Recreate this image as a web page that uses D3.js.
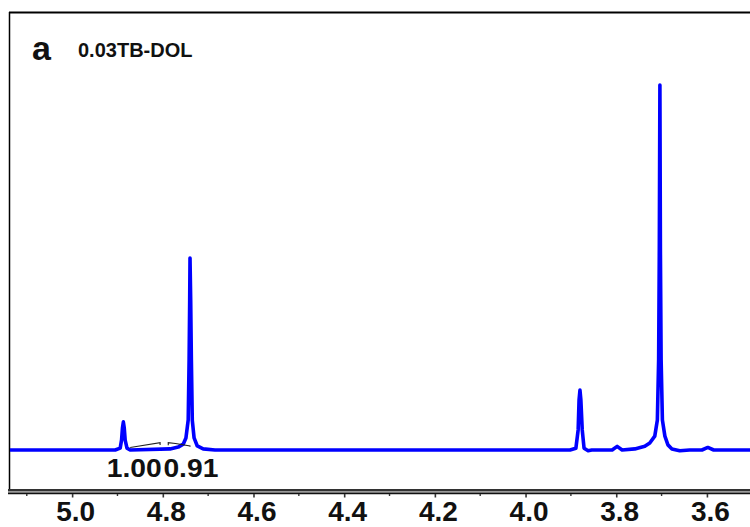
<!DOCTYPE html>
<html>
<head>
<meta charset="utf-8">
<script src="https://cdn.jsdelivr.net/npm/d3@7"></script>
<style>
  body { margin: 0; background: #fff; }
  svg { display: block; font-family: "Liberation Sans", Arial, sans-serif; }
</style>
</head>
<body>
<svg id="chart" width="750" height="527"></svg>
<script>
// spectrum: chemical shift (ppm) and intensity (tallest peak = 100)
var shiftPpm = [5.137, 4.905, 4.894, 4.891, 4.889, 4.887, 4.885, 4.883, 4.879, 4.872,
  4.784, 4.766, 4.755, 4.749, 4.744, 4.742, 4.7407, 4.740, 4.7385, 4.737, 4.735, 4.731, 4.724, 4.711, 4.685,
  3.902, 3.889, 3.884, 3.882, 3.880, 3.878, 3.875, 3.871, 3.862, 3.854,
  3.809, 3.798, 3.787, 3.759, 3.737, 3.726, 3.715, 3.7093, 3.7065, 3.705, 3.7037, 3.7026, 3.701, 3.6982,
  3.6927, 3.686, 3.6772, 3.660, 3.638, 3.611, 3.598, 3.585, 3.505];
var intensity = [0, 0, 0.5, 2.7, 6.0, 7.7, 6.0, 2.7, 0.5, 0,
  0.3, 0.8, 1.6, 3.3, 8.2, 24.7, 41, 52.6, 41, 24.7, 8.2, 3.3, 1.1, 0.3, 0,
  0, 0.5, 5.5, 13.7, 16.4, 13.7, 5.5, 0.5, -0.2, 0,
  0, 1.0, 0, 0.3, 1.0, 1.9, 3.8, 8.2, 24.7, 54.8, 100, 54.8, 24.7, 8.2,
  3.8, 1.4, 0.3, -0.2, 0, 0, 0.7, 0, 0];

// integration traces and their values
var integralLabels = ["1.00", "0.91"];
var integralLabelPpm = [4.863, 4.738];
var integralTraces = [
  [[4.872, 0.7], [4.806, 2.0], [4.806, 1.4]],
  [[4.788, 2.0], [4.788, 1.3], [4.788, 2.0], [4.772, 1.8], [4.740, 1.1], [4.740, 0.9]]
];

var majorTicks = [5.0, 4.8, 4.6, 4.4, 4.2, 4.0, 3.8, 3.6];
var minorTicks = [5.1, 4.9, 4.7, 4.5, 4.3, 4.1, 3.9, 3.7, 3.5];

var panelLetter = "a";
var sampleName = "0.03TB-DOL";

var svg = d3.select("#chart");
var plotLeft = 10, plotRight = 750, plotTop = 12, axisY = 490;

var x = d3.scaleLinear().domain([5.137, 3.505]).range([plotLeft, plotRight]);
var y = d3.scaleLinear().domain([0, 100]).range([450, 85]);

svg.append("clipPath").attr("id", "plotclip")
  .append("rect").attr("x", plotLeft).attr("y", plotTop)
  .attr("width", plotRight - plotLeft).attr("height", axisY - plotTop);

// frame (no right border, it runs off the picture)
svg.append("line").attr("x1", plotLeft - 1).attr("x2", plotRight).attr("y1", plotTop + 0.5).attr("y2", plotTop + 0.5)
  .attr("stroke", "#000").attr("stroke-width", 2);
svg.append("line").attr("x1", plotLeft - 0.5).attr("x2", plotLeft - 0.5).attr("y1", plotTop).attr("y2", axisY)
  .attr("stroke", "#000").attr("stroke-width", 1.5);

var plot = svg.append("g").attr("clip-path", "url(#plotclip)");

var line = d3.line()
  .x(function(d, i) { return x(shiftPpm[i]); })
  .y(function(d) { return y(d); });

plot.append("path")
  .datum(intensity)
  .attr("d", line)
  .attr("fill", "none")
  .attr("stroke", "#0000ff")
  .attr("stroke-width", 3.6)
  .attr("stroke-linejoin", "round");

// integral traces
var intLine = d3.line().x(function(d) { return x(d[0]); }).y(function(d) { return y(d[1]); });
plot.selectAll(".integral")
  .data(integralTraces)
  .enter().append("path")
  .attr("class", "integral")
  .attr("d", intLine)
  .attr("fill", "none")
  .attr("stroke", "#222")
  .attr("stroke-width", 1.1);

svg.selectAll(".intlabel")
  .data(integralLabels)
  .enter().append("text")
  .attr("class", "intlabel")
  .attr("x", function(d, i) { return x(integralLabelPpm[i]); })
  .attr("y", 477)
  .attr("text-anchor", "middle")
  .attr("font-size", 25)
  .attr("font-weight", "bold")
  .attr("fill", "#111")
  .attr("textLength", 55)
  .attr("lengthAdjust", "spacingAndGlyphs")
  .text(function(d) { return d; });

// bottom axis: double rule
svg.append("rect").attr("x", plotLeft - 2).attr("y", axisY - 1).attr("width", plotRight - plotLeft + 2).attr("height", 5)
  .attr("fill", "#999");
[axisY, axisY + 3.4].forEach(function(yy) {
  svg.append("line").attr("x1", plotLeft - 2).attr("x2", plotRight).attr("y1", yy).attr("y2", yy)
    .attr("stroke", "#111").attr("stroke-width", 1.5);
});

var axis = d3.axisBottom(x)
  .tickValues(majorTicks)
  .tickSize(3.5)
  .tickPadding(24)
  .tickFormat(d3.format(".1f"));

var gx = svg.append("g").attr("transform", "translate(0," + (axisY + 4) + ")").call(axis);
gx.select(".domain").remove();
gx.selectAll(".tick line").attr("stroke", "#333").attr("stroke-width", 1.6);
gx.selectAll(".tick text")
  .attr("font-size", 28)
  .attr("font-weight", "bold")
  .attr("fill", "#111")
  .attr("font-family", "Liberation Sans, Arial, sans-serif")
  .attr("dx", 3)
  .attr("dy", 0)
  .attr("y", 27);

svg.selectAll(".minor")
  .data(minorTicks)
  .enter().append("line")
  .attr("class", "minor")
  .attr("x1", function(d) { return x(d); })
  .attr("x2", function(d) { return x(d); })
  .attr("y1", axisY + 4)
  .attr("y2", axisY + 6)
  .attr("stroke", "#333")
  .attr("stroke-width", 1.4);

// labels
svg.append("text").attr("x", 32).attr("y", 60)
  .attr("font-size", 34).attr("font-weight", "bold").attr("fill", "#111")
  .text(panelLetter);
svg.append("text").attr("x", 78).attr("y", 57)
  .attr("font-size", 20).attr("font-weight", "bold").attr("fill", "#111")
  .text(sampleName);
</script>
</body>
</html>
